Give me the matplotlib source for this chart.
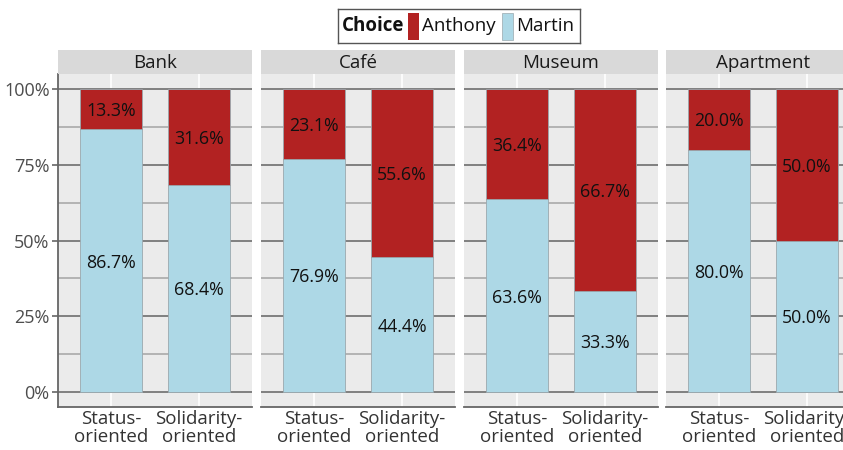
import matplotlib
matplotlib.use("Agg")
import matplotlib.pyplot as plt
from matplotlib.patches import Rectangle

plt.rcParams['font.family'] = ['Open Sans', 'DejaVu Sans']

locations = ["Bank", "Café", "Museum", "Apartment"]
styles = ["Status-\noriented", "Solidarity-\noriented"]
anthony = [[13.3, 31.6], [23.1, 55.6], [36.4, 66.7], [20.0, 50.0]]
martin = [[86.7, 68.4], [76.9, 44.4], [63.6, 33.3], [80.0, 50.0]]
yticks = [0, 25, 50, 75, 100]
ytick_labels = ["0%", "25%", "50%", "75%", "100%"]

C_ANTHONY = "#B22222"
C_MARTIN = "#ADD8E6"

W, H = 843, 450
fig = plt.figure(figsize=(W / 100, H / 100), dpi=100)

panel_lefts = [58, 261, 464, 666]
pw = 194
ptop, pbot = 74, 407
strip_top = 50

def fx(px):
    return px / W

def fy(py):
    return 1 - py / H

for i, loc in enumerate(locations):
    x0 = panel_lefts[i]
    ax = fig.add_axes([fx(x0), fy(pbot), pw / W, (pbot - ptop) / H])
    ax.set_facecolor("#EBEBEB")
    ax.set_xlim(0.4, 2.6)
    ax.set_ylim(-5, 105)
    for v in [12.5, 37.5, 62.5, 87.5]:
        ax.axhline(v, color="#A9A9A9", lw=1.2, zorder=0.5)
    for v in yticks:
        ax.axhline(v, color="#777777", lw=1.3, zorder=0.6)
    for v in [1, 2]:
        ax.axvline(v, color="white", lw=1.2, zorder=0.4)
    xs = [1, 2]
    ax.bar(xs, martin[i], width=0.7, color=C_MARTIN, edgecolor="#9AA8AE", lw=0.6, zorder=2)
    ax.bar(xs, anthony[i], width=0.7, bottom=martin[i], color=C_ANTHONY,
           edgecolor="#9AA8AE", lw=0.6, zorder=2)
    for j in range(2):
        m = martin[i][j]
        a = anthony[i][j]
        ax.text(xs[j], m / 2, f"{m:.1f}%", ha="center", va="center_baseline", fontsize=12.8, color="#111111", zorder=3)
        ax.text(xs[j], m + a / 2, f"{a:.1f}%", ha="center", va="center_baseline", fontsize=12.8, color="#111111", zorder=3)
    for s in ["top", "right"]:
        ax.spines[s].set_visible(False)
    ax.spines["bottom"].set_color("#666666")
    ax.spines["bottom"].set_linewidth(1.3)
    ax.set_xticks(xs)
    ax.set_xticklabels(styles, fontsize=13.5, color="#333333", linespacing=1.0)
    ax.tick_params(axis="x", length=0, pad=2)
    if i == 0:
        ax.spines["left"].set_color("#666666")
        ax.spines["left"].set_linewidth(1.3)
        ax.set_yticks(yticks)
        ax.set_yticklabels(ytick_labels, fontsize=13, color="#4D4D4D")
        ax.tick_params(axis="y", length=4, width=1.2, color="#666666", pad=2)
    else:
        ax.spines["left"].set_visible(False)
        ax.set_yticks([])
    sax = fig.add_axes([fx(x0), fy(ptop), pw / W, (ptop - strip_top) / H])
    sax.set_facecolor("#D9D9D9")
    sax.set_xticks([])
    sax.set_yticks([])
    for s in sax.spines.values():
        s.set_visible(False)
    sax.text(0.5, 0.45, loc, ha="center", va="center", fontsize=13.5, color="#1A1A1A",
             transform=sax.transAxes)

# legend
lax = fig.add_axes([fx(338), fy(43), (580 - 338) / W, (43 - 9) / H])
lax.set_xlim(338, 580)
lax.set_ylim(43, 9)
lax.set_xticks([])
lax.set_yticks([])
for s in lax.spines.values():
    s.set_color("#555555")
    s.set_linewidth(1.0)
lax.text(342, 26, "Choice", fontsize=13.5, fontweight="bold", ha="left", va="center", color="#111111")
lax.add_patch(Rectangle((408, 13), 11, 27, facecolor=C_ANTHONY, edgecolor="none"))
lax.text(422, 26, "Anthony", fontsize=13.5, ha="left", va="center", color="#111111")
lax.add_patch(Rectangle((502, 13), 11, 27, facecolor=C_MARTIN, edgecolor="#9AA8AE", lw=0.5))
lax.text(516, 26, "Martin", fontsize=13.5, ha="left", va="center", color="#111111")

fig.savefig("out.png", dpi=100)
